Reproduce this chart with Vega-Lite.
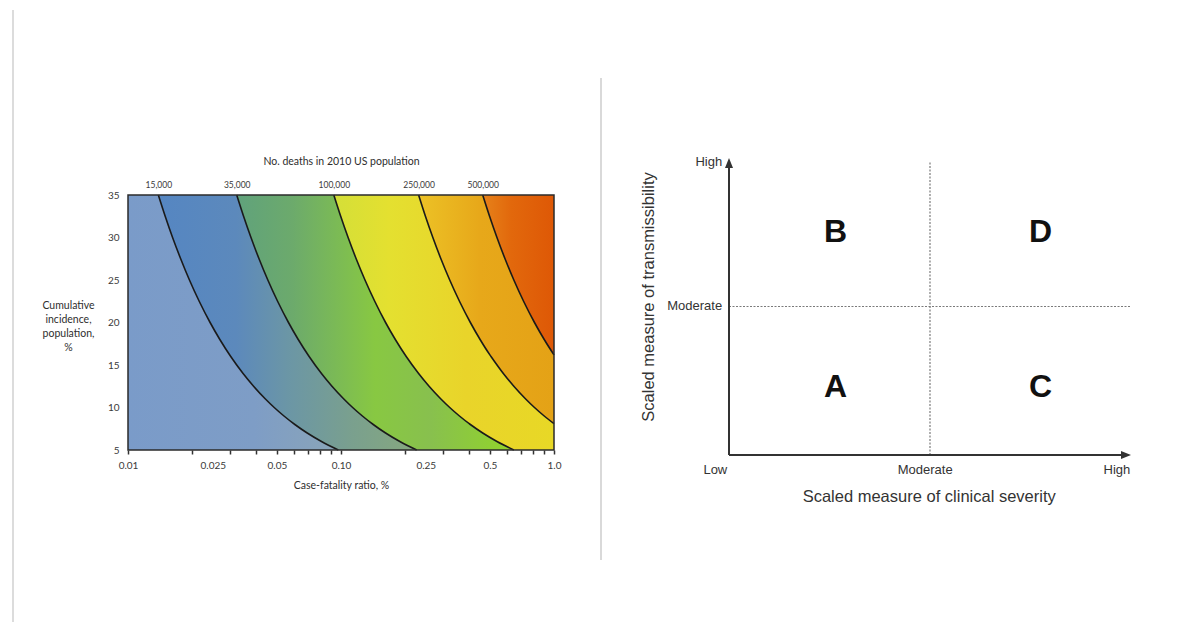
{
 "$schema": "https://vega.github.io/schema/vega-lite/v6.json",
 "padding": {"left": 11, "top": 9, "right": 0, "bottom": 0},
 "background": "white",
 "config": {"view": {"stroke": null}, "font": "Lato"},
 "bounds": "flush",
 "spacing": 175,
 "datasets": {
  "bands": [
   {"b":0,"y":5,"lo":0.01,"hi":0.09717},{"b":0,"y":6,"lo":0.01,"hi":0.08097},{"b":0,"y":7,"lo":0.01,"hi":0.0694},{"b":0,"y":8,"lo":0.01,"hi":0.06073},{"b":0,"y":9,"lo":0.01,"hi":0.05398},{"b":0,"y":10,"lo":0.01,"hi":0.04858},{"b":0,"y":11,"lo":0.01,"hi":0.04417},{"b":0,"y":12.5,"lo":0.01,"hi":0.03887},{"b":0,"y":14,"lo":0.01,"hi":0.0347},{"b":0,"y":16,"lo":0.01,"hi":0.03036},{"b":0,"y":18,"lo":0.01,"hi":0.02699},{"b":0,"y":20,"lo":0.01,"hi":0.02429},{"b":0,"y":22.5,"lo":0.01,"hi":0.02159},{"b":0,"y":25,"lo":0.01,"hi":0.01943},{"b":0,"y":27.5,"lo":0.01,"hi":0.01767},{"b":0,"y":30,"lo":0.01,"hi":0.01619},{"b":0,"y":32.5,"lo":0.01,"hi":0.01495},{"b":0,"y":35,"lo":0.01,"hi":0.01388},
   {"b":1,"y":5,"lo":0.09717,"hi":0.2267},{"b":1,"y":6,"lo":0.08097,"hi":0.1889},{"b":1,"y":7,"lo":0.0694,"hi":0.1619},{"b":1,"y":8,"lo":0.06073,"hi":0.1417},{"b":1,"y":9,"lo":0.05398,"hi":0.126},{"b":1,"y":10,"lo":0.04858,"hi":0.1134},{"b":1,"y":11,"lo":0.04417,"hi":0.1031},{"b":1,"y":12.5,"lo":0.03887,"hi":0.09069},{"b":1,"y":14,"lo":0.0347,"hi":0.08097},{"b":1,"y":16,"lo":0.03036,"hi":0.07085},{"b":1,"y":18,"lo":0.02699,"hi":0.06298},{"b":1,"y":20,"lo":0.02429,"hi":0.05668},{"b":1,"y":22.5,"lo":0.02159,"hi":0.05038},{"b":1,"y":25,"lo":0.01943,"hi":0.04534},{"b":1,"y":27.5,"lo":0.01767,"hi":0.04122},{"b":1,"y":30,"lo":0.01619,"hi":0.03779},{"b":1,"y":32.5,"lo":0.01495,"hi":0.03488},{"b":1,"y":35,"lo":0.01388,"hi":0.03239},
   {"b":2,"y":5,"lo":0.2267,"hi":0.6478},{"b":2,"y":6,"lo":0.1889,"hi":0.5398},{"b":2,"y":7,"lo":0.1619,"hi":0.4627},{"b":2,"y":8,"lo":0.1417,"hi":0.4049},{"b":2,"y":9,"lo":0.126,"hi":0.3599},{"b":2,"y":10,"lo":0.1134,"hi":0.3239},{"b":2,"y":11,"lo":0.1031,"hi":0.2945},{"b":2,"y":12.5,"lo":0.09069,"hi":0.2591},{"b":2,"y":14,"lo":0.08097,"hi":0.2314},{"b":2,"y":16,"lo":0.07085,"hi":0.2024},{"b":2,"y":18,"lo":0.06298,"hi":0.1799},{"b":2,"y":20,"lo":0.05668,"hi":0.1619},{"b":2,"y":22.5,"lo":0.05038,"hi":0.144},{"b":2,"y":25,"lo":0.04534,"hi":0.1296},{"b":2,"y":27.5,"lo":0.04122,"hi":0.1178},{"b":2,"y":30,"lo":0.03779,"hi":0.108},{"b":2,"y":32.5,"lo":0.03488,"hi":0.09966},{"b":2,"y":35,"lo":0.03239,"hi":0.09254},
   {"b":3,"y":5,"lo":0.6478,"hi":1},{"b":3,"y":6,"lo":0.5398,"hi":1},{"b":3,"y":7,"lo":0.4627,"hi":1},{"b":3,"y":8,"lo":0.4049,"hi":1},{"b":3,"y":8.097,"lo":0.4,"hi":1},{"b":3,"y":9,"lo":0.3599,"hi":0.8997},{"b":3,"y":10,"lo":0.3239,"hi":0.8097},{"b":3,"y":11,"lo":0.2945,"hi":0.7361},{"b":3,"y":12.5,"lo":0.2591,"hi":0.6478},{"b":3,"y":14,"lo":0.2314,"hi":0.5784},{"b":3,"y":16,"lo":0.2024,"hi":0.5061},{"b":3,"y":18,"lo":0.1799,"hi":0.4498},{"b":3,"y":20,"lo":0.1619,"hi":0.4049},{"b":3,"y":22.5,"lo":0.144,"hi":0.3599},{"b":3,"y":25,"lo":0.1296,"hi":0.3239},{"b":3,"y":27.5,"lo":0.1178,"hi":0.2944},{"b":3,"y":30,"lo":0.108,"hi":0.2699},{"b":3,"y":32.5,"lo":0.09966,"hi":0.2491},{"b":3,"y":35,"lo":0.09254,"hi":0.2314},
   {"b":4,"y":8.097,"lo":1,"hi":1},{"b":4,"y":9,"lo":0.8997,"hi":1},{"b":4,"y":10,"lo":0.8097,"hi":1},{"b":4,"y":11,"lo":0.7361,"hi":1},{"b":4,"y":12.5,"lo":0.6478,"hi":1},{"b":4,"y":14,"lo":0.5784,"hi":1},{"b":4,"y":16,"lo":0.5061,"hi":1},{"b":4,"y":16.19,"lo":0.5,"hi":1},{"b":4,"y":18,"lo":0.4498,"hi":0.8997},{"b":4,"y":20,"lo":0.4049,"hi":0.8097},{"b":4,"y":22.5,"lo":0.3599,"hi":0.7197},{"b":4,"y":25,"lo":0.3239,"hi":0.6478},{"b":4,"y":27.5,"lo":0.2944,"hi":0.5889},{"b":4,"y":30,"lo":0.2699,"hi":0.5398},{"b":4,"y":32.5,"lo":0.2491,"hi":0.4983},{"b":4,"y":35,"lo":0.2314,"hi":0.4627},
   {"b":5,"y":16.19,"lo":1,"hi":1},{"b":5,"y":18,"lo":0.8997,"hi":1},{"b":5,"y":20,"lo":0.8097,"hi":1},{"b":5,"y":22.5,"lo":0.7197,"hi":1},{"b":5,"y":25,"lo":0.6478,"hi":1},{"b":5,"y":27.5,"lo":0.5889,"hi":1},{"b":5,"y":30,"lo":0.5398,"hi":1},{"b":5,"y":32.5,"lo":0.4983,"hi":1},{"b":5,"y":35,"lo":0.4627,"hi":1}
  ]
 },
 "hconcat": [
  {
   "width": 426,
   "height": 255,
   "data": {"name": "bands"},
   "resolve": {"axis": {"x": "independent", "y": "independent"}},
   "layer": [
    {
     "transform": [{"filter": "datum.b==0"}],
     "mark": {"type": "area", "orient": "horizontal", "interpolate": "monotone",
      "fill": {"gradient": "linear", "x1": 0, "y1": 0, "x2": 1, "y2": 0, "stops": [{"offset": 0, "color": "#7a9bc9"}, {"offset": 0.6, "color": "#7e9dc6"}, {"offset": 1, "color": "#8aa5b8"}]}},
     "encoding": {
      "x": {"field": "lo", "type": "quantitative", "scale": {"type": "log", "domain": [0.01, 1], "nice": false},
       "axis": {"orient": "bottom", "values": [0.01,0.02,0.025,0.03,0.04,0.05,0.06,0.07,0.08,0.09,0.1,0.2,0.25,0.3,0.4,0.5,0.6,0.7,0.8,0.9,1],
        "labelExpr": "datum.value==0.01?'0.01':datum.value==0.025?'0.025':datum.value==0.05?'0.05':datum.value==0.1?'0.10':datum.value==0.25?'0.25':datum.value==0.5?'0.5':datum.value==1?'1.0':''",
        "tickOpacity": {"condition": {"test": "datum.value==0.025||datum.value==0.25", "value": 0}, "value": 1},
        "domain": false, "grid": false, "ticks": true, "tickSize": 4, "tickWidth": 1.5, "tickColor": "#333",
        "labelOverlap": false, "labelFlush": false, "labelBound": false, "labelPadding": 6,
        "labelFont": "Lato", "labelFontSize": 10, "labelColor": "#3a3a3a",
        "title": "Case-fatality ratio, %", "titleFont": "Lato", "titleFontSize": 10.5, "titleFontWeight": "normal", "titleColor": "#2e2e2e", "titlePadding": 10}},
      "x2": {"field": "hi"},
      "y": {"field": "y", "type": "quantitative", "scale": {"domain": [5, 35], "nice": false, "zero": false}, "axis": null}
     }
    },
    {
     "transform": [{"filter": "datum.b==1"}],
     "mark": {"type": "area", "orient": "horizontal", "interpolate": "monotone",
      "fill": {"gradient": "linear", "x1": 0, "y1": 0, "x2": 1, "y2": 0, "stops": [{"offset": 0, "color": "#5586c2"}, {"offset": 0.3, "color": "#5c89bc"}, {"offset": 0.5, "color": "#6b96a6"}, {"offset": 0.75, "color": "#7aa08e"}, {"offset": 1, "color": "#86a87e"}]}},
     "encoding": {
      "x": {"field": "lo", "type": "quantitative", "scale": {"type": "log", "domain": [0.01, 1], "nice": false}, "axis": null},
      "x2": {"field": "hi"},
      "y": {"field": "y", "type": "quantitative", "scale": {"domain": [5, 35], "nice": false, "zero": false}, "axis": null}
     }
    },
    {
     "transform": [{"filter": "datum.b==2"}],
     "mark": {"type": "area", "orient": "horizontal", "interpolate": "monotone",
      "fill": {"gradient": "linear", "x1": 0, "y1": 0, "x2": 1, "y2": 0, "stops": [{"offset": 0, "color": "#60a27c"}, {"offset": 0.2, "color": "#6caa6c"}, {"offset": 0.5, "color": "#88c842"}, {"offset": 0.7, "color": "#88c04e"}, {"offset": 1, "color": "#92d42a"}]}},
     "encoding": {
      "x": {"field": "lo", "type": "quantitative", "scale": {"type": "log", "domain": [0.01, 1], "nice": false}, "axis": null},
      "x2": {"field": "hi"},
      "y": {"field": "y", "type": "quantitative", "scale": {"domain": [5, 35], "nice": false, "zero": false}, "axis": null}
     }
    },
    {
     "transform": [{"filter": "datum.b==3"}],
     "mark": {"type": "area", "orient": "horizontal", "interpolate": "monotone",
      "fill": {"gradient": "linear", "x1": 0, "y1": 0, "x2": 1, "y2": 0, "stops": [{"offset": 0, "color": "#d4df38"}, {"offset": 0.25, "color": "#e4e030"}, {"offset": 0.6, "color": "#e9d42a"}, {"offset": 1, "color": "#e8d826"}]}},
     "encoding": {
      "x": {"field": "lo", "type": "quantitative", "scale": {"type": "log", "domain": [0.01, 1], "nice": false}, "axis": null},
      "x2": {"field": "hi"},
      "y": {"field": "y", "type": "quantitative", "scale": {"domain": [5, 35], "nice": false, "zero": false}, "axis": null}
     }
    },
    {
     "transform": [{"filter": "datum.b==4"}],
     "mark": {"type": "area", "orient": "horizontal", "interpolate": "monotone",
      "fill": {"gradient": "linear", "x1": 0, "y1": 0, "x2": 1, "y2": 0, "stops": [{"offset": 0, "color": "#ecc226"}, {"offset": 0.45, "color": "#e7a81a"}, {"offset": 1, "color": "#e4a216"}]}},
     "encoding": {
      "x": {"field": "lo", "type": "quantitative", "scale": {"type": "log", "domain": [0.01, 1], "nice": false}, "axis": null},
      "x2": {"field": "hi"},
      "y": {"field": "y", "type": "quantitative", "scale": {"domain": [5, 35], "nice": false, "zero": false}, "axis": null}
     }
    },
    {
     "transform": [{"filter": "datum.b==5"}],
     "mark": {"type": "area", "orient": "horizontal", "interpolate": "monotone",
      "fill": {"gradient": "linear", "x1": 0, "y1": 0, "x2": 1, "y2": 0, "stops": [{"offset": 0, "color": "#e6821a"}, {"offset": 0.4, "color": "#e2680c"}, {"offset": 1, "color": "#de5806"}]}},
     "encoding": {
      "x": {"field": "lo", "type": "quantitative", "scale": {"type": "log", "domain": [0.01, 1], "nice": false}, "axis": null},
      "x2": {"field": "hi"},
      "y": {"field": "y", "type": "quantitative", "scale": {"domain": [5, 35], "nice": false, "zero": false}, "axis": null}
     }
    },
    {
     "transform": [{"filter": "datum.b>=1"}],
     "mark": {"type": "line", "interpolate": "monotone", "color": "#1a1a1a", "strokeWidth": 1.6},
     "encoding": {
      "x": {"field": "lo", "type": "quantitative", "scale": {"type": "log", "domain": [0.01, 1], "nice": false},
       "axis": {"orient": "top", "values": [0.01388, 0.03239, 0.09254, 0.2314, 0.4627],
        "labelExpr": "datum.value<0.02?'15,000':datum.value<0.05?'35,000':datum.value<0.15?'100,000':datum.value<0.3?'250,000':'500,000'",
        "domain": false, "grid": false, "ticks": false, "tickSize": 0, "labelOverlap": false, "labelFlush": false, "labelBound": false,
        "labelPadding": 6, "labelFont": "Lato", "labelFontSize": 8.5, "labelColor": "#3a3a3a",
        "title": "No. deaths in 2010 US population", "titleFont": "Lato", "titleFontSize": 10.5, "titleFontWeight": "normal", "titleColor": "#2e2e2e", "titlePadding": 14}},
      "y": {"field": "y", "type": "quantitative", "scale": {"domain": [5, 35], "nice": false, "zero": false},
       "axis": {"orient": "left", "values": [5,10,15,20,25,30,35], "domain": false, "grid": false, "ticks": false, "tickSize": 0,
        "labelPadding": 9, "labelFont": "Lato", "labelFontSize": 10, "labelColor": "#3a3a3a", "labelFlush": false, "labelOverlap": false, "labelBound": false,
        "title": ["Cumulative", "incidence,", "population,", "%"], "titleAngle": 0, "titleAlign": "center", "titleBaseline": "middle",
        "titleX": -60, "titleY": 110, "titleLineHeight": 14, "titleFont": "Lato", "titleFontSize": 10.5, "titleFontWeight": "normal", "titleColor": "#2e2e2e"}},
      "detail": {"field": "b", "type": "nominal"}
     }
    },
    {
     "data": {"values": [{}]},
     "mark": {"type": "rect", "fill": "#ffffff", "fillOpacity": 0, "stroke": "#2b2b2b", "strokeWidth": 1.5},
     "encoding": {
      "x": {"datum": 0.01, "type": "quantitative", "scale": {"type": "log", "domain": [0.01, 1], "nice": false}, "axis": null},
      "x2": {"datum": 1},
      "y": {"datum": 5, "type": "quantitative", "scale": {"domain": [5, 35], "nice": false, "zero": false}, "axis": null},
      "y2": {"datum": 35}
     }
    },
    {
     "data": {"values": [{}]},
     "mark": {"type": "rule", "color": "#dcdcdc", "strokeWidth": 2},
     "encoding": {
      "x": {"datum": 0.002884, "type": "quantitative", "scale": {"type": "log", "domain": [0.01, 1], "nice": false}, "axis": null},
      "y": {"datum": 56.76, "type": "quantitative", "scale": {"domain": [5, 35], "nice": false, "zero": false}, "axis": null},
      "y2": {"datum": -15.24}
     }
    }
   ]
  },
  {
   "width": 402,
   "height": 260,
   "layer": [
    {
     "data": {"values": [{}]},
     "mark": {"type": "rule", "color": "#cccccc", "strokeWidth": 1.5},
     "encoding": {
      "x": {"datum": -3.184, "type": "quantitative", "scale": {"domain": [0, 10], "nice": false, "zero": false}, "axis": null},
      "y": {"datum": 12.69, "type": "quantitative", "scale": {"domain": [0, 8.754], "nice": false, "zero": false}, "axis": null},
      "y2": {"datum": -3.535}
     }
    },
    {
     "data": {"values": [{}]},
     "mark": {"type": "rule", "color": "#7a7a7a", "strokeWidth": 1.2, "strokeDash": [2, 1.5]},
     "encoding": {
      "x": {"datum": 5, "type": "quantitative", "scale": {"domain": [0, 10], "nice": false, "zero": false}, "axis": null},
      "y": {"datum": 0, "type": "quantitative", "scale": {"domain": [0, 8.754], "nice": false, "zero": false}, "axis": null},
      "y2": {"datum": 9.85}
     }
    },
    {
     "data": {"values": [{}]},
     "mark": {"type": "rule", "color": "#7a7a7a", "strokeWidth": 1.2, "strokeDash": [2, 1.5]},
     "encoding": {
      "x": {"datum": 0, "type": "quantitative", "scale": {"domain": [0, 10], "nice": false, "zero": false}, "axis": null},
      "x2": {"datum": 10},
      "y": {"datum": 5, "type": "quantitative", "scale": {"domain": [0, 8.754], "nice": false, "zero": false}, "axis": null}
     }
    },
    {
     "data": {"values": [{}]},
     "mark": {"type": "rule", "color": "#333333", "strokeWidth": 2},
     "encoding": {
      "x": {"datum": 0, "type": "quantitative", "scale": {"domain": [0, 10], "nice": false, "zero": false}, "axis": null},
      "y": {"datum": 0, "type": "quantitative", "scale": {"domain": [0, 8.754], "nice": false, "zero": false}, "axis": null},
      "y2": {"datum": 9.75}
     }
    },
    {
     "data": {"values": [{}]},
     "mark": {"type": "rule", "color": "#333333", "strokeWidth": 2},
     "encoding": {
      "x": {"datum": 0, "type": "quantitative", "scale": {"domain": [0, 10], "nice": false, "zero": false}, "axis": null},
      "x2": {"datum": 9.8},
      "y": {"datum": 0, "type": "quantitative", "scale": {"domain": [0, 8.754], "nice": false, "zero": false}, "axis": null}
     }
    },
    {
     "data": {"values": [{}]},
     "mark": {"type": "point", "shape": "M0,0L-0.8,2L0.8,2Z", "size": 100, "filled": true, "color": "#333333", "opacity": 1, "strokeWidth": 0},
     "encoding": {
      "x": {"datum": 0, "type": "quantitative", "scale": {"domain": [0, 10], "nice": false, "zero": false}, "axis": null},
      "y": {"datum": 10, "type": "quantitative", "scale": {"domain": [0, 8.754], "nice": false, "zero": false}, "axis": null}
     }
    },
    {
     "data": {"values": [{}]},
     "mark": {"type": "point", "shape": "M0,0L-2,-0.8L-2,0.8Z", "size": 100, "filled": true, "color": "#333333", "opacity": 1, "strokeWidth": 0},
     "encoding": {
      "x": {"datum": 10, "type": "quantitative", "scale": {"domain": [0, 10], "nice": false, "zero": false}, "axis": null},
      "y": {"datum": 0, "type": "quantitative", "scale": {"domain": [0, 8.754], "nice": false, "zero": false}, "axis": null}
     }
    },
    {
     "data": {"values": [{"label": "High", "pos": 9.87}, {"label": "Moderate", "pos": 5}]},
     "mark": {"type": "text", "align": "right", "baseline": "middle", "font": "Liberation Sans", "fontSize": 13, "color": "#333333"},
     "encoding": {
      "x": {"datum": -0.17, "type": "quantitative", "scale": {"domain": [0, 10], "nice": false, "zero": false}, "axis": null},
      "y": {"field": "pos", "type": "quantitative", "scale": {"domain": [0, 8.754], "nice": false, "zero": false}, "axis": null},
      "text": {"field": "label", "type": "nominal"}
     }
    },
    {
     "data": {"values": [{"label": "Low", "pos": -0.34}, {"label": "Moderate", "pos": 4.88}, {"label": "High", "pos": 9.65}]},
     "mark": {"type": "text", "align": "center", "baseline": "middle", "font": "Liberation Sans", "fontSize": 13, "color": "#333333"},
     "encoding": {
      "x": {"field": "pos", "type": "quantitative", "scale": {"domain": [0, 10], "nice": false, "zero": false}, "axis": null},
      "y": {"datum": -0.5, "type": "quantitative", "scale": {"domain": [0, 8.754], "nice": false, "zero": false}, "axis": null},
      "text": {"field": "label", "type": "nominal"}
     }
    },
    {
     "data": {"values": [{"t": "Scaled measure of clinical severity"}]},
     "mark": {"type": "text", "align": "center", "baseline": "middle", "font": "Liberation Sans", "fontSize": 16.5, "color": "#333333"},
     "encoding": {
      "x": {"datum": 4.98, "type": "quantitative", "scale": {"domain": [0, 10], "nice": false, "zero": false}, "axis": null},
      "y": {"datum": -1.41, "type": "quantitative", "scale": {"domain": [0, 8.754], "nice": false, "zero": false}, "axis": null},
      "text": {"field": "t", "type": "nominal"}
     }
    },
    {
     "data": {"values": [{"t": "Scaled measure of transmissibility"}]},
     "mark": {"type": "text", "align": "center", "baseline": "middle", "angle": 270, "font": "Liberation Sans", "fontSize": 16.5, "color": "#333333"},
     "encoding": {
      "x": {"datum": -1.99, "type": "quantitative", "scale": {"domain": [0, 10], "nice": false, "zero": false}, "axis": null},
      "y": {"datum": 5.32, "type": "quantitative", "scale": {"domain": [0, 8.754], "nice": false, "zero": false}, "axis": null},
      "text": {"field": "t", "type": "nominal"}
     }
    },
    {
     "data": {"values": [{"q": "A", "sev": 2.65, "tr": 2.3}, {"q": "B", "sev": 2.65, "tr": 7.5}, {"q": "C", "sev": 7.75, "tr": 2.3}, {"q": "D", "sev": 7.75, "tr": 7.5}]},
     "mark": {"type": "text", "align": "center", "baseline": "middle", "font": "Liberation Sans", "fontSize": 32, "fontWeight": "bold", "color": "#111111"},
     "encoding": {
      "x": {"field": "sev", "type": "quantitative", "scale": {"domain": [0, 10], "nice": false, "zero": false}, "axis": null},
      "y": {"field": "tr", "type": "quantitative", "scale": {"domain": [0, 8.754], "nice": false, "zero": false}, "axis": null},
      "text": {"field": "q", "type": "nominal"}
     }
    }
   ]
  }
 ]
}
